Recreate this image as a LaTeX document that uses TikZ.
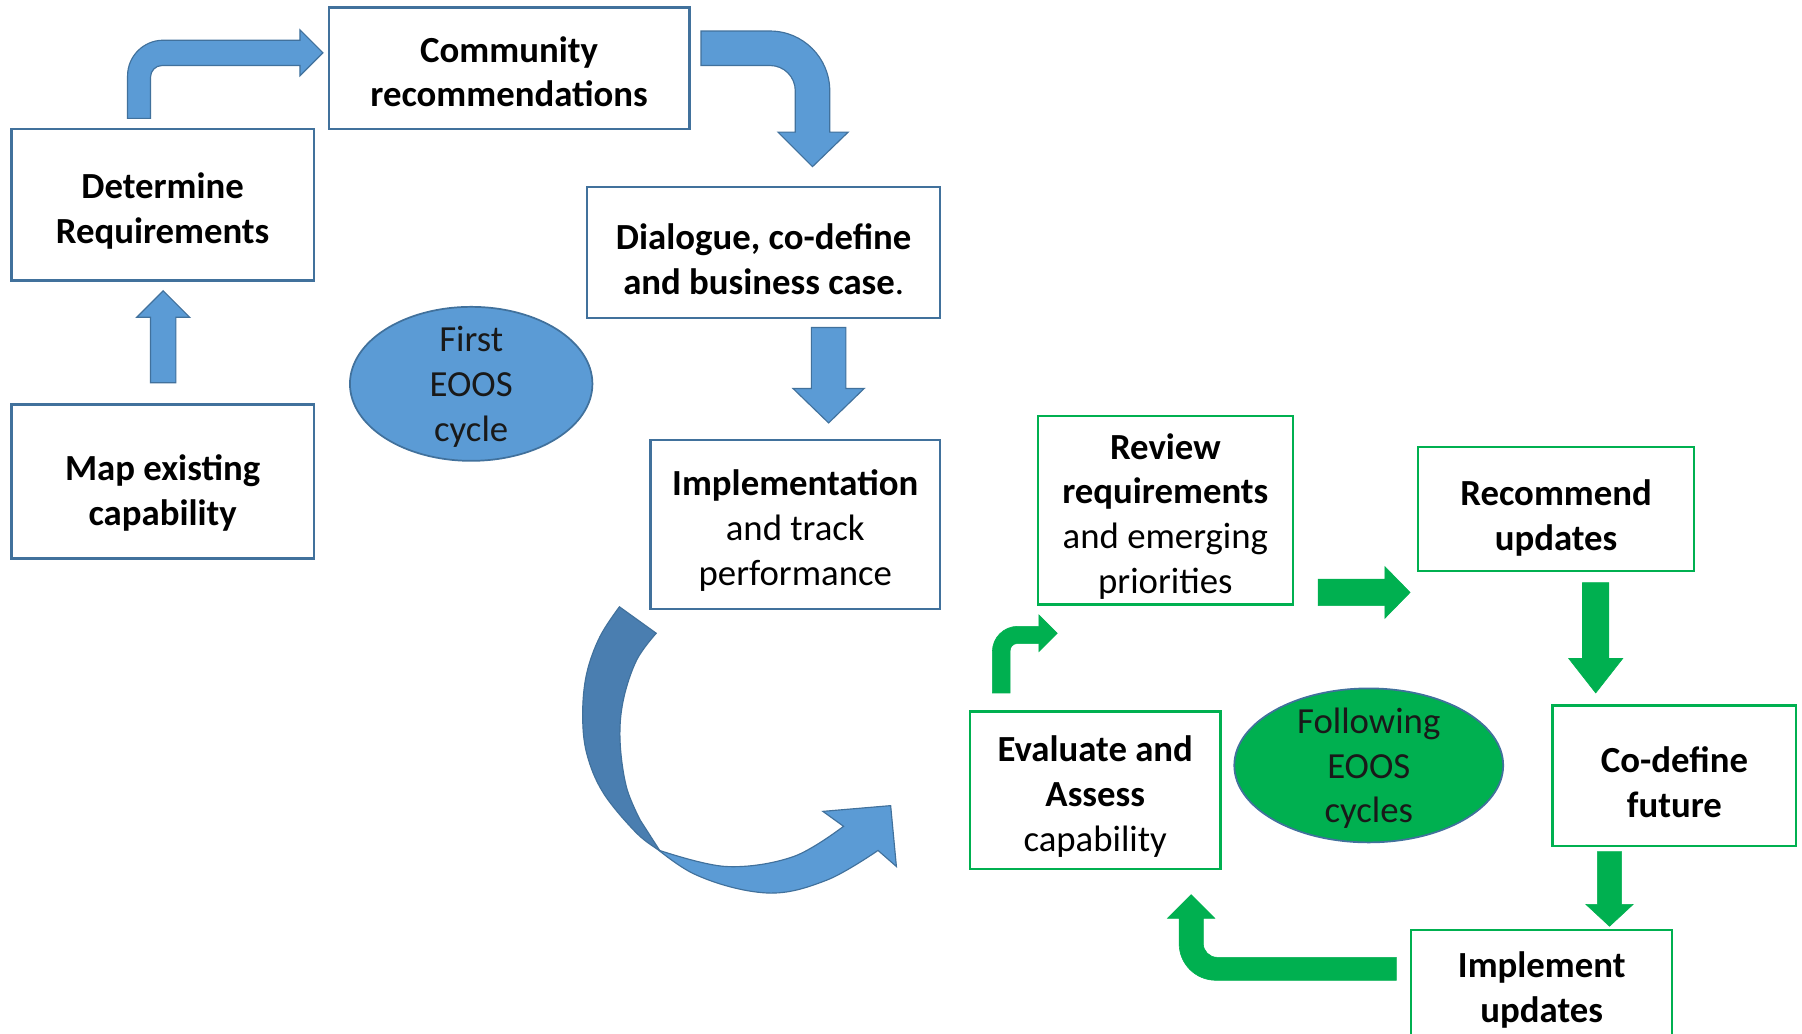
\documentclass[tikz,border=0pt]{standalone}
\usepackage{fontspec}
\setmainfont{Carlito}
\definecolor{bfill}{HTML}{5B9BD5}
\definecolor{bline}{HTML}{41719C}
\definecolor{bdark}{HTML}{4A7EB0}
\definecolor{gfill}{HTML}{00B050}
\newcommand\fsz{\fontsize{32}{39}\selectfont}
\newcommand\st{\rule[-5.5pt]{0pt}{39pt}}
\newcommand\stx[1]{\rule[-5.5pt]{0pt}{#1pt}}
\newcommand\est{\rule[-8.5pt]{0pt}{39pt}}
\tikzset{
  bbox/.style={draw=bline, line width=2pt, fill=white, align=center, inner sep=0pt, font=\fsz, rectangle},
  gbox/.style={draw=gfill, line width=2pt, fill=white, align=center, inner sep=0pt, font=\fsz, rectangle},
  bell/.style={ellipse, draw=bline, line width=1.5pt, fill=bfill, align=center, inner xsep=0pt, inner ysep=-30pt, font=\fsz, text=black!90},
  gell/.style={ellipse, draw=bline, line width=1.5pt, fill=gfill, align=center, inner xsep=0pt, inner ysep=-30pt, font=\fsz, text=black!90},
  barrow/.style={fill=bfill, draw=bline, line width=1pt, line join=miter},
  bdarrow/.style={fill=bdark, draw=bline, line width=1pt, line join=miter},
  garrow/.style={fill=gfill, draw=gfill, line width=0.5pt},
}
\usetikzlibrary{shapes.geometric}
\begin{document}
\begin{tikzpicture}[x=1pt,y=-1pt]
\clip (0,0) rectangle (1568,899);
\fill[white] (0,0) rectangle (1568,899);

% ---- blue part: nodes
\node[bbox, minimum width=314, minimum height=106] (comm) at (443,59.5) {\st\textbf{Community}\\\st\textbf{recommendations}};
\node[bbox, minimum width=263, minimum height=132] (det) at (141.5,178) {\st\textbf{Determine}\\\st\textbf{Requirements}};
\node[bbox, minimum width=263, minimum height=134] (map) at (141.5,419) {\stx{49}\textbf{Map existing}\\\st\textbf{capability}};
\node[bbox, minimum width=307, minimum height=114] (dia) at (664.5,220) {\stx{45}\textbf{Dialogue, co-define}\\\st\textbf{and business case}.};
\node[bbox, minimum width=252, minimum height=147] (imp) at (692,456.5) {\st\textbf{Implementation}\\\st and track\\\st performance};
\node[bell, minimum width=211, minimum height=134] (first) at (410,334) {\est First\\\est EOOS\\\est cycle};

% ---- blue arrows
\coordinate (a1) at (131,333);
\draw[barrow] (a1) -- (131,276) -- (119,276) -- (142,253) -- (165,276) -- (153,276) -- (153,333) -- cycle;
\coordinate (a2) at (111,103);
\draw[barrow] (a2) -- (111,66) .. controls (111,48.9) and (124.9,35) .. (142,35) -- (261,35) -- (261,26)
   -- (281,46) -- (261,66) -- (261,57) -- (141,57) .. controls (135.5,57) and (131,61.5) .. (131,67) -- (131,103) -- cycle;
\coordinate (a3) at (610,27);
\draw[barrow] (a3) -- (670,27) .. controls (698.7,27) and (722,50.3) .. (722,79) -- (722,115) -- (738,115)
   -- (707,145) -- (677,115) -- (692,115) -- (692,79) .. controls (692,66.8) and (682.2,57) .. (670,57) -- (610,57) -- cycle;
\coordinate (a4) at (706,285);
\draw[barrow] (a4) -- (736,285) -- (736,338) -- (752,338) -- (721,368) -- (690,338) -- (706,338) -- cycle;

% big curved arrow
\draw[barrow] plot[smooth, tension=0.6] coordinates {(552,722) (603,760) (667,777) (719,766) (764,740)}
   -- (780,754) -- (775,701) -- (716,706)
   -- plot[smooth, tension=0.6] coordinates {(734,719) (690,745.5) (632,754) (574,740)} -- cycle;
\draw[bdarrow] plot[smooth, tension=0.6] coordinates {(539,528) (522,554) (510.5,586) (507,621) (510.5,655.5) (525,690) (554,725) (574,740)}
   -- plot[smooth, tension=0.6] coordinates {(557,713.5) (545,684.5) (539.5,644) (542.4,609) (554,574.3) (571,551)} -- cycle;

% ---- green part: nodes
\node[gbox, minimum width=222, minimum height=164] (rev) at (1014,444) {\st\textbf{Review}\\\st\textbf{requirements}\\\st and emerging\\\st priorities};
\node[gbox, minimum width=240, minimum height=108] (rec) at (1354,443) {\stx{44}\textbf{Recommend}\\\st\textbf{updates}};
\node[gbox, minimum width=212, minimum height=122] (cod) at (1457,675) {\stx{44}\textbf{Co-define}\\\st\textbf{future}};
\node[gbox, minimum width=227, minimum height=98] (impu) at (1341.5,858) {\stx{35}\textbf{Implement}\\\st\textbf{updates}};
\node[gbox, minimum width=218, minimum height=137] (eva) at (953,687.5) {\st\textbf{Evaluate and}\\\st\textbf{Assess}\\\st capability};
\node[gell, minimum width=234, minimum height=134] (fol) at (1191,666) {\est Following\\\est EOOS\\\est cycles};

% ---- green arrows
\coordinate (g1) at (1147,504);
\draw[garrow] (g1) -- (1205,504) -- (1205,493) -- (1227,515.5) -- (1205,538) -- (1205,527) -- (1147,527) -- cycle;
\coordinate (g2) at (1377,507);
\draw[garrow] (g2) -- (1400,507) -- (1400,573) -- (1412,573) -- (1388.5,603) -- (1365,573) -- (1377,573) -- cycle;
\coordinate (g3) at (1390,741);
\draw[garrow] (g3) -- (1411,741) -- (1411,787) -- (1421,787) -- (1400.5,806) -- (1380,787) -- (1390,787) -- cycle;
\coordinate (g4) at (1215,833);
\draw[garrow] (g4) -- (1059,833) .. controls (1052.4,833) and (1047,827.6) .. (1047,821) -- (1047,799) -- (1057,799)
   -- (1036.5,778.5) -- (1016,799) -- (1026,799) -- (1026,821) .. controls (1026,838.7) and (1040.3,853) .. (1058,853) -- (1215,853) -- cycle;
\coordinate (g5) at (863.5,603);
\draw[garrow] (g5) -- (863.5,567) .. controls (863.5,554.8) and (873.4,545) .. (885.5,545) -- (904,545) -- (904,535)
   -- (920,551) -- (904,567) -- (904,560) -- (885,560) .. controls (881.7,560) and (879,562.7) .. (879,566) -- (879,603) -- cycle;
\end{tikzpicture}
\end{document}
